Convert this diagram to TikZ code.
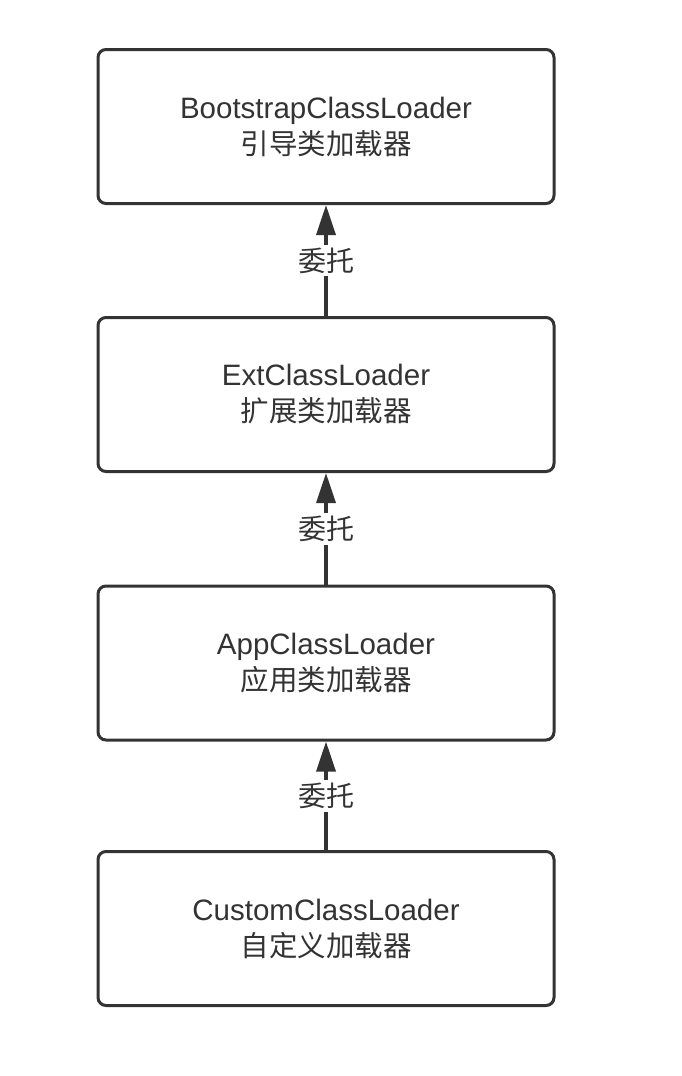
\documentclass[tikz,border=0pt]{standalone}
\usepackage{fontspec}
\setmainfont{Liberation Sans}
\newfontfamily\cjk{Noto Sans CJK SC}
\usetikzlibrary{arrows.meta}
\definecolor{ink}{HTML}{333333}
\tikzset{
  box/.style={draw=ink, line width=3pt, rounded corners=8pt, minimum width=456pt, minimum height=154pt, inner sep=0pt, align=center, text=ink, font=\fontsize{29.5}{36}\selectfont},
  deleg/.style={draw=ink, line width=3.5pt, -{Triangle[length=30pt,width=19pt]}},
  lbl/.style={text=ink, font=\cjk\fontsize{28}{30}\selectfont, fill=white, inner sep=3pt}
}
\newcommand{\zh}[1]{{\cjk\fontsize{28.5}{36}\selectfont #1}}
\begin{document}
\begin{tikzpicture}[x=1pt,y=-1pt]
\useasboundingbox (0,0) rectangle (682,1076);
\node[box] (b1) at (326,126.5) {BootstrapClassLoader\\\zh{引导类加载器}};
\node[box] (b2) at (326,394.5) {ExtClassLoader\\\zh{扩展类加载器}};
\node[box] (b3) at (326,663) {AppClassLoader\\\zh{应用类加载器}};
\node[box] (b4) at (326,928.5) {CustomClassLoader\\\zh{自定义加载器}};
\draw[deleg] (b2.north) -- node[lbl] {委托} (b1.south);
\draw[deleg] (b3.north) -- node[lbl] {委托} (b2.south);
\draw[deleg] (b4.north) -- node[lbl] {委托} (b3.south);
\end{tikzpicture}
\end{document}
